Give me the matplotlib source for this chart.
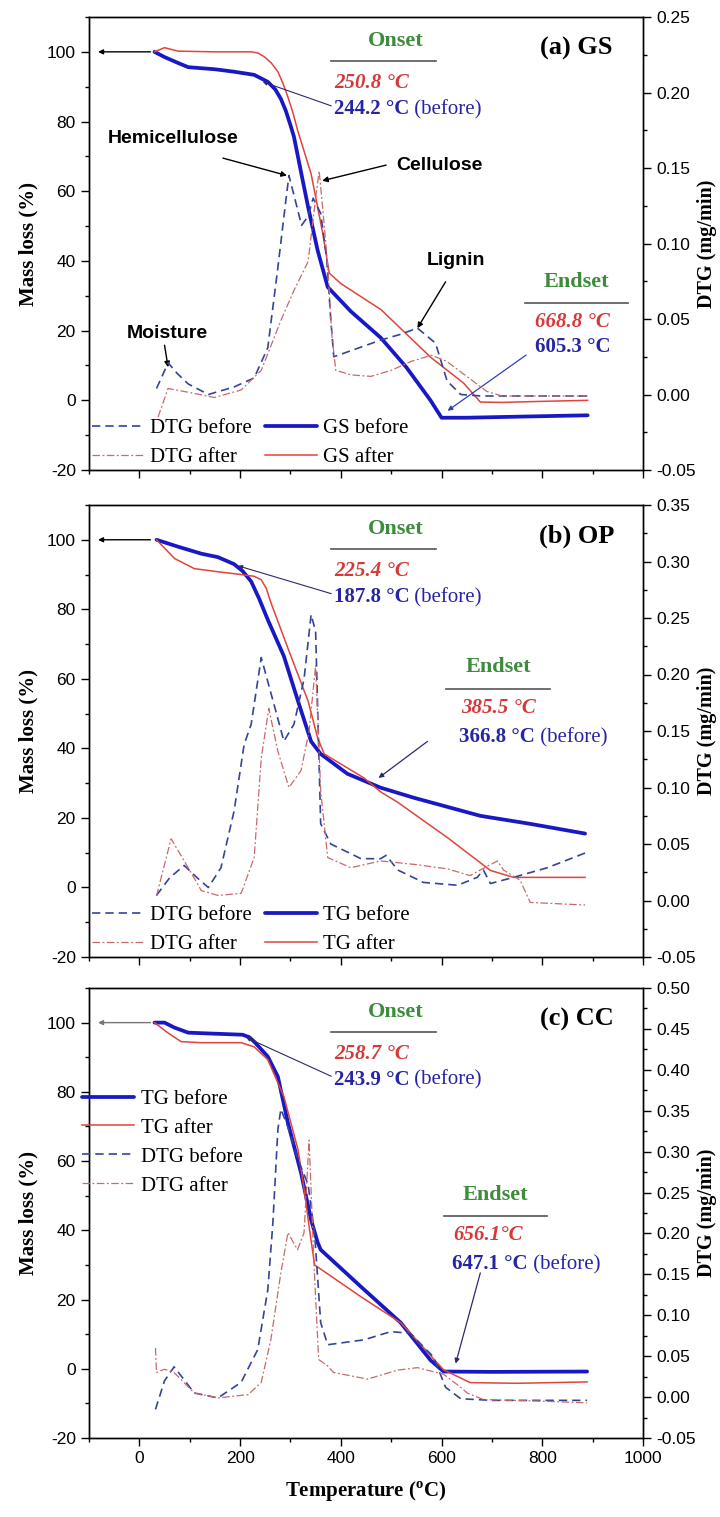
import matplotlib
matplotlib.use('Agg')
import matplotlib.pyplot as plt
from matplotlib.ticker import MultipleLocator, FormatStrFormatter

plt.rcParams['font.family'] = ['Liberation Serif', 'DejaVu Serif']
plt.rcParams['axes.unicode_minus'] = False

# ---------------- data ----------------
# (a) GS
a_T_tg_before = [30, 50, 77, 97, 150, 188, 228, 255, 270, 281, 291, 301, 307, 321, 335, 354, 374, 420, 479, 530, 578, 600, 650, 750, 890]
a_M_tg_before = [100, 98.5, 96.8, 95.6, 95.0, 94.3, 93.4, 91.4, 89.2, 86.5, 83, 78.5, 75.6, 65.5, 55.5, 43, 32.5, 25.5, 18, 9.5, 0, -5, -5, -4.7, -4.3]
a_T_tg_after = [30, 50, 77, 150, 222, 235, 248, 262, 275, 285, 295, 305, 314, 341, 364, 377, 400, 480, 578, 644, 677, 720, 800, 890]
a_M_tg_after = [100, 101.2, 100.2, 100, 100, 99.7, 98.6, 96.8, 94.3, 91, 87, 82.5, 77.6, 65, 48, 36.5, 33.5, 26, 12.4, 4.9, -0.5, -0.6, -0.3, 0]
a_T_dtg_before = [34, 45, 57, 75, 97, 137, 188, 228, 255, 275, 291, 297, 310, 322, 335, 345, 360, 372, 380, 386, 420, 479, 520, 552, 588, 611, 638, 680, 800, 890]
a_D_dtg_before = [0.004, 0.012, 0.021, 0.014, 0.007, 0.000, 0.005, 0.011, 0.031, 0.084, 0.129, 0.145, 0.128, 0.112, 0.118, 0.130, 0.120, 0.090, 0.050, 0.025, 0.029, 0.036, 0.040, 0.044, 0.034, 0.009, 0.000, -0.001, -0.001, -0.001]
a_T_dtg_after = [37, 57, 97, 149, 202, 242, 281, 307, 335, 350, 357, 365, 374, 382, 390, 420, 460, 500, 540, 580, 610, 650, 690, 720, 890]
a_D_dtg_after = [-0.015, 0.004, 0.0015, -0.002, 0.003, 0.016, 0.049, 0.069, 0.088, 0.130, 0.148, 0.120, 0.085, 0.040, 0.016, 0.013, 0.012, 0.016, 0.022, 0.026, 0.022, 0.012, 0.002, -0.001, -0.001]

# (b) OP
b_T_tg_before = [34, 77, 123, 156, 188, 205, 222, 238, 255, 287, 315, 341, 360, 413, 479, 545, 677, 776, 885]
b_M_tg_before = [100, 98, 96, 95, 93, 91, 88, 83, 77, 66.5, 53.6, 42, 38.4, 32.7, 28.7, 25.8, 20.6, 18.3, 15.5]
b_T_tg_after = [34, 70, 109, 156, 202, 228, 242, 252, 261, 295, 335, 354, 367, 446, 479, 513, 612, 697, 743, 885]
b_M_tg_after = [100, 94.6, 91.7, 90.8, 90, 89.5, 88.5, 86, 82, 68.8, 53.6, 43, 38.4, 31.5, 27.5, 24.5, 14.3, 4.9, 2.9, 2.9]
b_T_dtg_before = [34, 60, 89, 115, 137, 162, 188, 208, 222, 242, 267, 287, 307, 327, 341, 350, 360, 380, 440, 479, 490, 513, 564, 632, 671, 683, 697, 743, 810, 885]
b_D_dtg_before = [0.0045, 0.020, 0.031, 0.020, 0.0115, 0.029, 0.079, 0.138, 0.156, 0.215, 0.174, 0.141, 0.156, 0.196, 0.253, 0.238, 0.068, 0.050, 0.037, 0.037, 0.040, 0.027, 0.016, 0.0135, 0.0205, 0.027, 0.015, 0.0205, 0.029, 0.042]
b_T_dtg_after = [34, 63, 97, 123, 156, 202, 228, 242, 257, 275, 297, 321, 337, 350, 360, 374, 420, 479, 545, 612, 657, 677, 711, 723, 756, 776, 885]
b_D_dtg_after = [0.004, 0.0546, 0.029, 0.0088, 0.0045, 0.0063, 0.038, 0.126, 0.170, 0.132, 0.100, 0.115, 0.150, 0.208, 0.097, 0.038, 0.029, 0.035, 0.032, 0.028, 0.022, 0.027, 0.035, 0.027, 0.018, -0.0017, -0.004]

# (c) CC
c_T_tg_before = [30, 50, 69, 97, 150, 205, 218, 228, 255, 275, 295, 321, 341, 354, 360, 440, 519, 578, 604, 700, 889]
c_M_tg_before = [100, 100, 98.6, 97.1, 96.8, 96.5, 95.8, 94.5, 90.2, 84.4, 71, 56.6, 43, 36.5, 34.4, 23.7, 13.3, 2.5, -0.8, -0.9, -0.8]
c_T_tg_after = [30, 57, 83, 123, 202, 228, 255, 287, 315, 327, 340, 348, 440, 519, 604, 657, 750, 889]
c_M_tg_after = [100, 97, 94.5, 94.2, 94.2, 93, 89.3, 78.6, 63.3, 52, 38, 30, 20.8, 13.3, -0.3, -4, -4.2, -3.8]
c_T_dtg_before = [32, 50, 69, 109, 156, 202, 235, 255, 265, 275, 281, 295, 315, 335, 348, 360, 374, 446, 499, 538, 584, 608, 638, 700, 889]
c_D_dtg_before = [-0.015, 0.020, 0.037, 0.005, -0.001, 0.018, 0.058, 0.131, 0.212, 0.327, 0.352, 0.330, 0.290, 0.260, 0.200, 0.091, 0.064, 0.070, 0.080, 0.078, 0.049, 0.012, -0.002, -0.004, -0.004]
c_T_dtg_after = [32, 34, 50, 69, 109, 156, 216, 242, 261, 281, 295, 314, 327, 337, 347, 356, 374, 386, 453, 513, 552, 584, 604, 638, 651, 683, 800, 889]
c_D_dtg_after = [0.060, 0.030, 0.034, 0.030, 0.005, -0.001, 0.003, 0.018, 0.070, 0.152, 0.201, 0.180, 0.201, 0.314, 0.159, 0.046, 0.038, 0.030, 0.022, 0.033, 0.036, 0.031, 0.028, 0.012, 0.005, -0.003, -0.005, -0.007]

panel_names = ['(a) GS', '(b) OP', '(c) CC']
tg_names = ['GS', 'TG', 'TG']
dtg_top = [0.25, 0.35, 0.50]
onset_after = ['250.8 °C', '225.4 °C', '258.7 °C']
onset_before = ['244.2 °C', '187.8 °C', '243.9 °C']
onset_point = [(245, 91.4), (196, 92.5), (212, 95.7)]
endset_after = ['668.8 °C', '385.5 °C', '656.1°C']
endset_before = ['605.3 °C', '366.8 °C', '647.1 °C']

# colours
BLUE = '#1818c4'
RED = '#e0443c'
BLUE_D = '#34449a'
RED_D = '#c86a6a'
GREEN = '#3c8c3c'
TXT_BLUE = '#2525a5'
TXT_RED = '#d43a3a'

fig = plt.figure(figsize=(7.2, 15.17), dpi=100)
H = 1517.0
L, Wd = 89 / 720, 554 / 720
boxes = [(17, 470), (505, 957), (988, 1438)]

data = [
    (a_T_tg_before, a_M_tg_before, a_T_tg_after, a_M_tg_after, a_T_dtg_before, a_D_dtg_before, a_T_dtg_after, a_D_dtg_after),
    (b_T_tg_before, b_M_tg_before, b_T_tg_after, b_M_tg_after, b_T_dtg_before, b_D_dtg_before, b_T_dtg_after, b_D_dtg_after),
    (c_T_tg_before, c_M_tg_before, c_T_tg_after, c_M_tg_after, c_T_dtg_before, c_D_dtg_before, c_T_dtg_after, c_D_dtg_after),
]

val_font = dict(family='Liberation Serif', size=15)
arrow_k = dict(arrowstyle='-|>', color='k', lw=1.0, mutation_scale=8, shrinkA=0, shrinkB=0)

for i in range(3):
    top, bot = boxes[i]
    ax = fig.add_axes([L, 1 - bot / H, Wd, (bot - top) / H])
    ax2 = ax.twinx()
    Tb, Mb, Ta, Ma, Tdb, Ddb, Tda, Dda = data[i]

    # TG curves (left axis), DTG curves (right axis)
    l_tgb, = ax.plot(Tb, Mb, color=BLUE, lw=2.7, solid_capstyle='round', solid_joinstyle='round')
    l_tga, = ax.plot(Ta, Ma, color=RED, lw=1.1)
    l_dtgb, = ax2.plot(Tdb, Ddb, color=BLUE_D, lw=1.2, ls=(0, (5, 3)))
    l_dtga, = ax2.plot(Tda, Dda, color=RED_D, lw=0.9, ls=(0, (6, 2, 1.5, 2)))

    ax.set_xlim(-100, 1000)
    ax.set_ylim(-20, 110)
    ax2.set_ylim(-0.05, dtg_top[i])
    ax.xaxis.set_major_locator(MultipleLocator(200))
    ax.xaxis.set_minor_locator(MultipleLocator(100))
    ax.yaxis.set_major_locator(MultipleLocator(20))
    ax.yaxis.set_minor_locator(MultipleLocator(10))
    ax2.yaxis.set_major_locator(MultipleLocator(0.05))
    ax2.yaxis.set_minor_locator(MultipleLocator(0.025))
    ax2.yaxis.set_major_formatter(FormatStrFormatter('%.2f'))
    for a in (ax, ax2):
        a.tick_params(which='both', direction='out', top=False, labelsize=12.5,
                      labelfontfamily='Liberation Sans', width=1.0)
        a.tick_params(which='major', length=6)
        a.tick_params(which='minor', length=3)
        for s in a.spines.values():
            s.set_linewidth(1.0)
    if i < 2:
        ax.tick_params(labelbottom=False)
    else:
        ax.set_xlabel('Temperature ($^\\mathregular{o}$C)', fontsize=15, fontweight='bold', labelpad=10)

    ax.set_ylabel('Mass loss (%)', fontsize=15, fontweight='bold', labelpad=6)
    ax2.set_ylabel('DTG (mg/min)', fontsize=14.5, fontweight='bold', labelpad=1)

    # arrow pointing to the TG axis
    ax.annotate('', xy=(-82, 100), xytext=(22, 100),
                arrowprops=dict(arrowstyle='-|>', color='k' if i < 2 else '#777777', lw=1.0,
                                mutation_scale=7, shrinkA=0, shrinkB=0))

    # panel label
    ax.text(868, 101, panel_names[i], ha='center', va='center', fontsize=19, fontweight='bold')

    # onset block
    ax.text(509, 103, 'Onset', ha='center', va='center', color=GREEN, fontsize=16, fontweight='bold')
    ax.plot([380, 588], [97.3, 97.3], color='#555555', lw=1.2)
    ax.text(386, 91, onset_after[i], ha='left', va='center', color=TXT_RED,
            fontstyle='italic', fontweight='bold', **val_font)
    t1 = ax.text(386, 83.5, onset_before[i], ha='left', va='center', color=TXT_BLUE,
                 fontweight='bold', **val_font)
    ax.annotate(' (before)', xy=(1, 0), xycoords=t1, va='bottom', ha='left',
                color=TXT_BLUE, **val_font)
    ax.annotate('', xy=onset_point[i], xytext=(381, 84.5),
                arrowprops=dict(arrowstyle='-|>', color='#2a2a70', lw=0.8, mutation_scale=6,
                                shrinkA=0, shrinkB=0))

    leg_font = dict(family='Liberation Serif', size=15)
    if i == 0:
        # component labels
        lab = dict(family='Liberation Sans', fontsize=14, fontweight='bold', ha='center', va='center')
        ax.text(67, 75, 'Hemicellulose', **lab)
        ax.annotate('', xy=(293, 64.5), xytext=(166, 69.5), arrowprops=arrow_k)
        ax.text(596, 67.5, 'Cellulose', **lab)
        ax.annotate('', xy=(363, 63), xytext=(490, 67.5), arrowprops=arrow_k)
        ax.text(628, 40, 'Lignin', **lab)
        ax.annotate('', xy=(552, 20.7), xytext=(608, 34), arrowprops=arrow_k)
        ax.text(55, 19.3, 'Moisture', **lab)
        ax.annotate('', xy=(57, 9.5), xytext=(50, 15.8), arrowprops=arrow_k)
        # endset block
        ex, ey = 868, 34
        ax.text(ex, ey, 'Endset', ha='center', va='center', color=GREEN, fontsize=16, fontweight='bold')
        ax.plot([766, 970], [27.9, 27.9], color='#555555', lw=1.2)
        ax.text(786, 22.5, endset_after[i], ha='left', va='center', color=TXT_RED,
                fontstyle='italic', fontweight='bold', **val_font)
        ax.text(786, 15.3, endset_before[i], ha='left', va='center', color=TXT_BLUE,
                fontweight='bold', **val_font)
        ax.annotate('', xy=(612, -3), xytext=(768, 13),
                    arrowprops=dict(arrowstyle='-|>', color='#3040b0', lw=0.9, mutation_scale=7,
                                    shrinkA=0, shrinkB=0))
    else:
        if i == 1:
            ex, ey, ux, uy, vx = 712, 63.5, (608, 816), 57, 638
            tip, tail = (475, 31.5), (572, 42)
        else:
            ex, ey, ux, uy, vx = 706, 50.3, (604, 810), 44, 624
            tip, tail = (628, 1.5), (677, 27.7)
        ax.text(ex, ey, 'Endset', ha='center', va='center', color=GREEN, fontsize=16, fontweight='bold')
        ax.plot(list(ux), [uy, uy], color='#555555', lw=1.2)
        ax.text(vx, uy - 5.3, endset_after[i], ha='left', va='center', color=TXT_RED,
                fontstyle='italic', fontweight='bold', **val_font)
        t2 = ax.text(vx - 3, uy - 13.8, endset_before[i], ha='left', va='center', color=TXT_BLUE,
                     fontweight='bold', **val_font)
        ax.annotate(' (before)', xy=(1, 0), xycoords=t2, va='bottom', ha='left',
                    color=TXT_BLUE, **val_font)
        ax.annotate('', xy=tip, xytext=tail,
                    arrowprops=dict(arrowstyle='-|>', color='#2a2a70', lw=0.9, mutation_scale=7,
                                    shrinkA=0, shrinkB=0))

    # legends
    if i < 2:
        ax2.legend([l_dtgb, l_dtga, l_tgb, l_tga],
                   ['DTG before', 'DTG after', tg_names[i] + ' before', tg_names[i] + ' after'],
                   loc='lower left', ncol=2, frameon=False, prop=leg_font,
                   handlelength=2.5, handletextpad=0.3, columnspacing=0.6,
                   labelspacing=0.45, borderaxespad=0.05, borderpad=0.1)
    else:
        ax2.legend([l_tgb, l_tga, l_dtgb, l_dtga],
                   ['TG before', 'TG after', 'DTG before', 'DTG after'],
                   loc='upper left', bbox_to_anchor=(-0.012, 0.775), frameon=False, prop=leg_font,
                   handlelength=2.5, handletextpad=0.3, labelspacing=0.45,
                   borderaxespad=0.0, borderpad=0.0)

fig.savefig('out.png', dpi=100)
